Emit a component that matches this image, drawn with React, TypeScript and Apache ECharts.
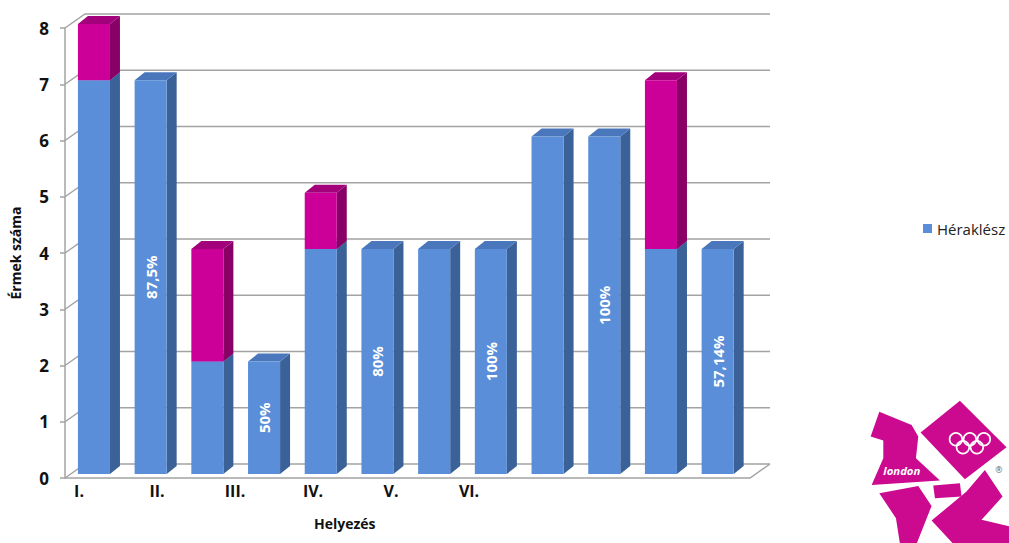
import React, { useEffect, useRef } from "react";
import * as echarts from "echarts";

const categories = ["1", "2", "3", "4", "5", "6", "7", "8", "9", "10", "11", "12"];
const blueValues = [7, 7, 2, 2, 4, 4, 4, 4, 6, 6, 4, 4];
const magentaValues = [1, 0, 2, 0, 1, 0, 0, 0, 0, 0, 3, 0];
const barLabels = ["", "87,5%", "", "50%", "", "80%", "", "100%", "", "100%", "", "57,14%"];
const placeLabels = ["I.", "II.", "III.", "IV.", "V.", "VI."];
const yTicks = [0, 1, 2, 3, 4, 5, 6, 7, 8];
const seriesName = "Héraklész";
const xAxisTitle = "Helyezés";
const yAxisTitle = "Érmek száma";

const FONT = "'Open Sans', 'Noto Sans', sans-serif";
const BLUE = { front: "#5a8ed8", side: "#3b6199", top: "#4a77bc" };
const MAG = { front: "#cc0099", side: "#880066", top: "#a3007b" };
const LOGO = "#cc0a8f";
const DX = 10;
const DY = -8;

function bar3d(x0: number, w: number, yTop: number, yBot: number, c: any) {
  return [
    {
      type: "polygon",
      shape: { points: [[x0 + w, yTop], [x0 + w + DX, yTop + DY], [x0 + w + DX, yBot + DY], [x0 + w, yBot]] },
      style: { fill: c.side },
    },
    {
      type: "polygon",
      shape: { points: [[x0, yTop], [x0 + DX, yTop + DY], [x0 + w + DX, yTop + DY], [x0 + w, yTop]] },
      style: { fill: c.top },
    },
    { type: "rect", shape: { x: x0, y: yTop, width: w, height: yBot - yTop }, style: { fill: c.front } },
  ];
}

function ring(cx: number, cy: number) {
  return { type: "circle", shape: { cx, cy, r: 19 }, style: { fill: "none", stroke: "#fff", lineWidth: 5 } };
}

export default function App() {
  const ref = useRef<HTMLDivElement>(null);
  useEffect(() => {
    if (!ref.current) return;
    const chart = echarts.init(ref.current, null, { renderer: "svg" });
    const gridColor = "#a3a3a3";

    const option: any = {
      animation: false,
      backgroundColor: "#fff",
      legend: {
        data: [seriesName],
        left: 918,
        top: 216,
        icon: "rect",
        itemWidth: 9,
        itemHeight: 9,
        itemGap: 5,
        textStyle: { fontFamily: FONT, fontSize: 15, color: "#222" },
      },
      grid: [
        { left: 60, top: 28, width: 685, height: 450 },
        { left: 65.6, top: 24, width: 680.4, height: 450 },
        { left: 40, top: 28, width: 468, height: 450 },
      ],
      xAxis: [
        { gridIndex: 0, type: "value", min: 0, max: 1, show: false },
        { gridIndex: 1, type: "category", data: categories, show: false },
        {
          gridIndex: 2,
          type: "category",
          data: placeLabels,
          axisLine: { show: false },
          axisTick: { show: false },
          axisLabel: { fontFamily: FONT, fontWeight: "bold", fontSize: 16, color: "#111", margin: 5 },
        },
      ],
      yAxis: [
        {
          gridIndex: 0,
          type: "value",
          min: 0,
          max: 8,
          interval: 1,
          axisLine: { show: true, lineStyle: { color: gridColor, width: 1.5 } },
          axisTick: { show: true, length: 5, lineStyle: { color: gridColor, width: 1.5 } },
          splitLine: { show: false },
          axisLabel: { fontFamily: FONT, fontWeight: "bold", fontSize: 17, color: "#111", margin: 16 },
          name: yAxisTitle,
          nameLocation: "middle",
          nameRotate: 90,
          nameGap: 43,
          nameTextStyle: { fontFamily: FONT, fontWeight: "bold", fontSize: 14, color: "#111" },
        },
        { gridIndex: 1, type: "value", min: 0, max: 8, show: false },
        { gridIndex: 2, type: "value", min: 0, max: 8, show: false },
      ],
      series: [
        {
          type: "custom",
          name: "walls",
          xAxisIndex: 0,
          yAxisIndex: 0,
          z: 1,
          silent: true,
          data: yTicks.map((v) => [0, v]),
          renderItem: (params: any, api: any) => {
            const p = api.coord([0, api.value(1)]);
            const x = p[0];
            const y = p[1];
            const children: any[] = [
              {
                type: "polyline",
                shape: { points: [[x, y], [x + 20, y - 14], [x + 705, y - 14]] },
                style: { stroke: gridColor, lineWidth: 1.5, fill: "none" },
              },
            ];
            if (api.value(1) === 0) {
              children.push({
                type: "polyline",
                shape: { points: [[x, y], [x + 685, y], [x + 705, y - 14]] },
                style: { stroke: gridColor, lineWidth: 1.5, fill: "none" },
              });
            }
            return { type: "group", children };
          },
        },
        {
          type: "custom",
          name: seriesName,
          xAxisIndex: 1,
          yAxisIndex: 1,
          z: 2,
          itemStyle: { color: BLUE.front },
          data: blueValues.map((v, i) => [i, v]),
          renderItem: (params: any, api: any) => {
            const i = params.dataIndex;
            const base = api.coord([api.value(0), 0]);
            const top = api.coord([api.value(0), api.value(1)]);
            const w = api.size([1, 0])[0] * 0.565;
            const x0 = base[0] - w / 2;
            const children: any[] = bar3d(x0, w, top[1], base[1], BLUE);
            if (barLabels[i]) {
              children.push({
                type: "text",
                x: base[0],
                y: (top[1] + base[1]) / 2,
                rotation: Math.PI / 2,
                style: {
                  text: barLabels[i],
                  fill: "#fff",
                  fontFamily: FONT,
                  fontWeight: "bold",
                  fontSize: 15,
                  align: "center",
                  verticalAlign: "middle",
                },
              });
            }
            return { type: "group", children };
          },
        },
        {
          type: "custom",
          name: "extra",
          xAxisIndex: 1,
          yAxisIndex: 1,
          z: 3,
          itemStyle: { color: MAG.front },
          data: magentaValues.map((v, i) => [i, v]),
          renderItem: (params: any, api: any) => {
            const i = params.dataIndex;
            const m = api.value(1);
            if (!m) return { type: "group", children: [] };
            const b = blueValues[i];
            const base = api.coord([api.value(0), b]);
            const top = api.coord([api.value(0), b + m]);
            const w = api.size([1, 0])[0] * 0.565;
            const x0 = base[0] - w / 2;
            return { type: "group", children: bar3d(x0, w, top[1], base[1], MAG) };
          },
        },
      ],
      graphic: [
        {
          type: "text",
          left: 314,
          top: 516,
          style: { text: xAxisTitle, fontFamily: FONT, fontWeight: "bold", fontSize: 14, fill: "#111" },
        },
        {
          type: "group",
          x: 850,
          y: 390,
          scaleX: 1 / 3,
          scaleY: 1 / 3,
          children: [
            {
              type: "polygon",
              shape: { points: [[88, 65], [185, 105], [205, 140], [198, 205], [270, 272], [65, 285], [100, 205], [100, 152], [62, 140]] },
              style: { fill: LOGO },
            },
            {
              type: "polygon",
              shape: { points: [[212, 128], [330, 32], [470, 172], [345, 268]] },
              style: { fill: LOGO },
            },
            {
              type: "polygon",
              shape: { points: [[250, 287], [330, 280], [335, 320], [255, 325]] },
              style: { fill: LOGO },
            },
            {
              type: "polygon",
              shape: { points: [[88, 310], [205, 288], [245, 348], [200, 462], [150, 462], [138, 385]] },
              style: { fill: LOGO },
            },
            {
              type: "polygon",
              shape: { points: [[245, 392], [350, 305], [405, 240], [458, 320], [395, 390], [482, 410], [482, 462], [310, 462]] },
              style: { fill: LOGO },
            },
            ring(318, 148),
            ring(360, 148),
            ring(402, 148),
            ring(339, 172),
            ring(381, 172),
            {
              type: "text",
              x: 100,
              y: 224,
              style: { text: "london", fill: "#fff", fontFamily: FONT, fontStyle: "italic", fontWeight: "bold", fontSize: 34 },
            },
            {
              type: "text",
              x: 436,
              y: 228,
              style: { text: "®", fill: "#666", fontFamily: FONT, fontSize: 26 },
            },
          ],
        },
      ],
    };
    chart.setOption(option);
    return () => chart.dispose();
  }, []);
  return <div ref={ref} style={{ width: 1009, height: 543, position: "absolute", left: 0, top: 0 }} />;
}
